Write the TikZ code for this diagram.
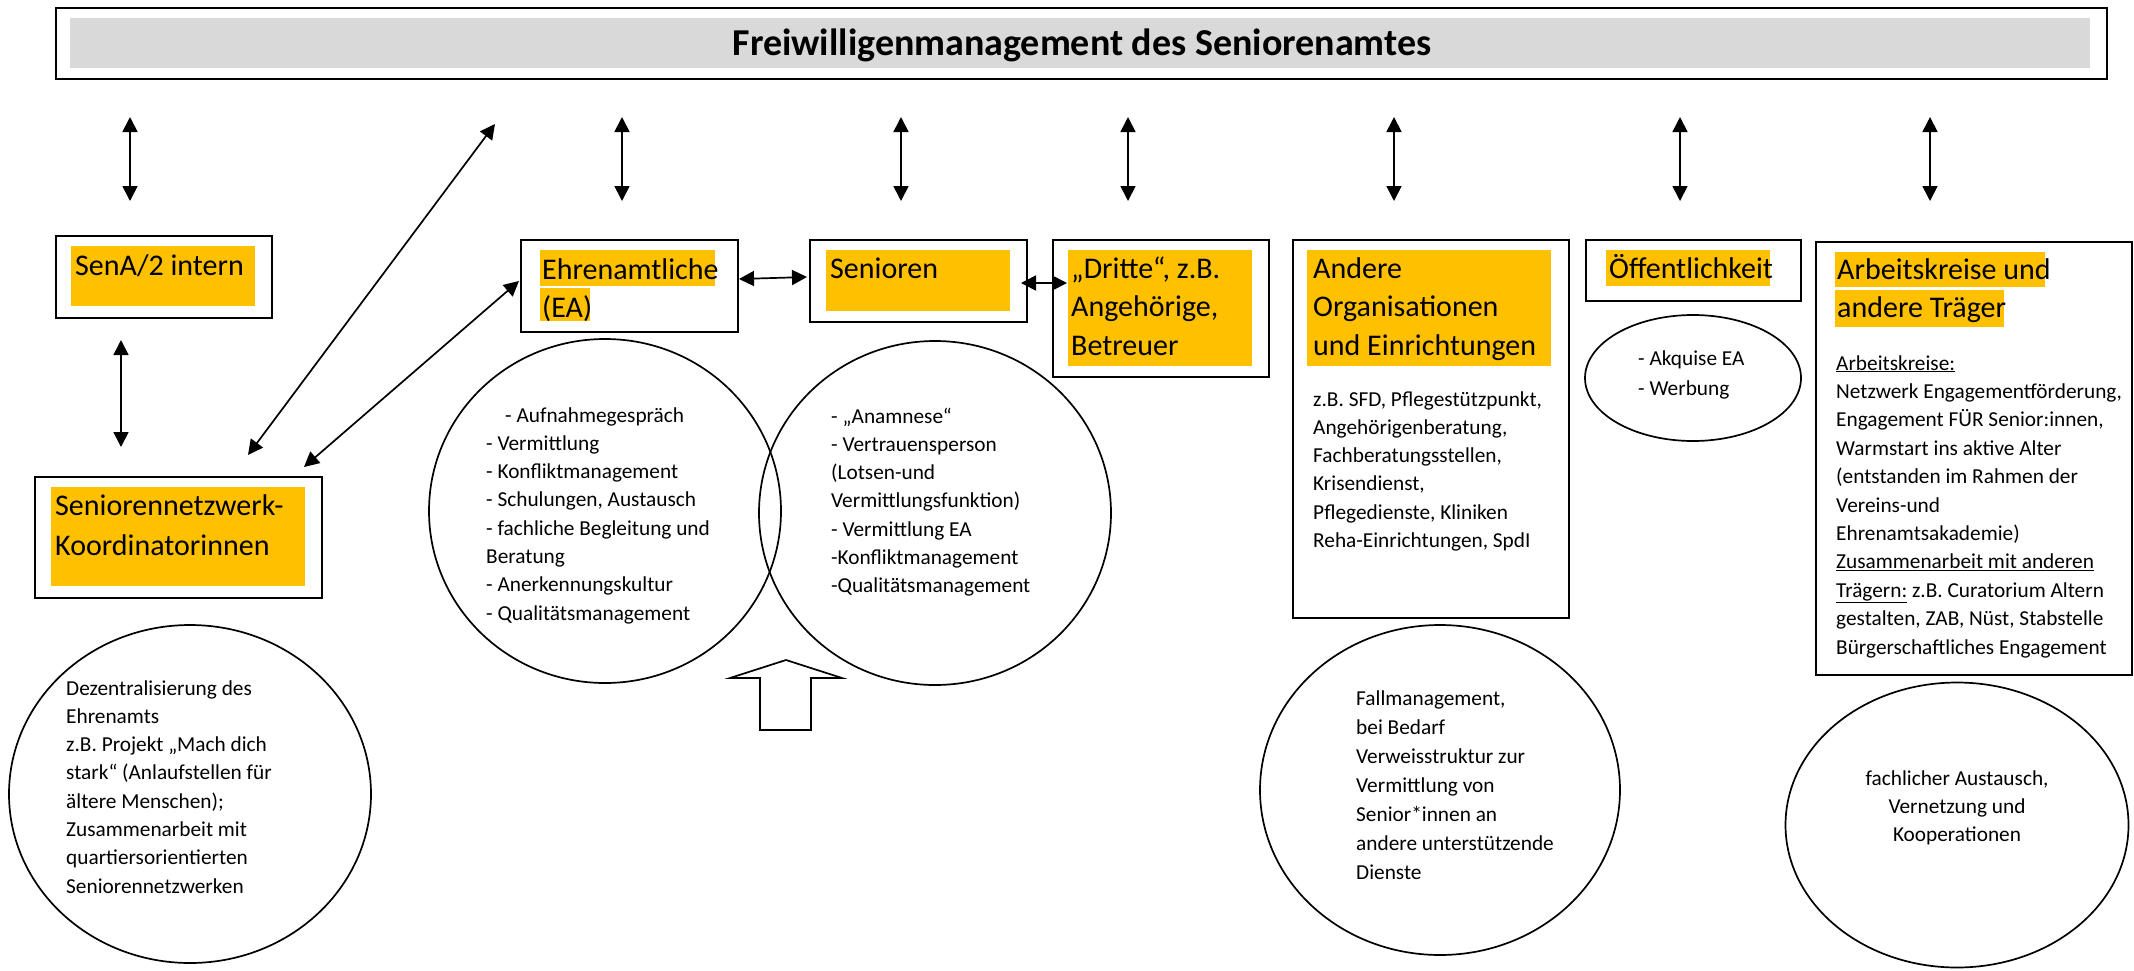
\documentclass[tikz,border=0pt]{standalone}
\usepackage{fontspec}
\setmainfont{Carlito}
\usetikzlibrary{arrows.meta,shapes.geometric}
\definecolor{hly}{HTML}{FFC000}
\definecolor{titlegray}{HTML}{D9D9D9}
\newcommand{\lft}[1]{\begin{tabular}[t]{@{}l@{}}#1\end{tabular}}
\newcommand{\ctr}[1]{\begin{tabular}[t]{@{}c@{}}#1\end{tabular}}
\begin{document}
\begin{tikzpicture}[x=1pt,y=-1pt,
  frame/.style={draw, line width=2pt, inner sep=0pt, anchor=north west},
  big/.style={anchor=base west, inner sep=0pt, font=\fontsize{30}{38.5}\selectfont},
  small/.style={anchor=base west, inner sep=0pt, font=\fontsize{21.3}{28.3}\selectfont},
  oval/.style={draw, ellipse, line width=1.7pt, inner sep=0pt},
  dbl/.style={line width=1.7pt, {Triangle[length=15pt,width=15pt]}-{Triangle[length=15pt,width=15pt]}}
]
\useasboundingbox (0,0) rectangle (2134,970);

% title
\node[frame, minimum width=2051pt, minimum height=71pt] (titlebox) at (55,7) {};
\fill[titlegray] (70,18) rectangle (2090,68);
\node[anchor=base, inner sep=0pt, font=\bfseries\fontsize{38}{46}\selectfont] (title) at (1082,55) {Freiwilligenmanagement des Seniorenamtes};

% SenA/2 intern
\node[frame, minimum width=216pt, minimum height=82pt] (sena) at (55,235) {};
\fill[hly] (71,246) rectangle (255,306);
\node[big] (senatxt) at (75,275) {SenA/2 intern};

% Koordinatorinnen
\node[frame, minimum width=287pt, minimum height=121pt] (koord) at (34,476) {};
\fill[hly] (51,487) rectangle (305,586);
\node[big, font=\fontsize{30}{40}\selectfont] (koordtxt) at (55,515) {\lft{Seniorennetzwerk-\\Koordinatorinnen}};

% Ehrenamtliche
\node[frame, minimum width=217pt, minimum height=92pt] (ehren) at (520,239) {};
\fill[hly] (540,250) rectangle (715,286);
\fill[hly] (540,288) rectangle (590,321);
\node[big] (ehrentxt) at (542,279) {\lft{Ehrenamtliche\\(EA)}};

% Senioren
\node[frame, minimum width=217pt, minimum height=82pt] (senioren) at (809,239) {};
\fill[hly] (826,250) rectangle (1010,311);
\node[big] (seniorentxt) at (830,278) {Senioren};

% Dritte
\node[frame, minimum width=216pt, minimum height=137pt] (dritte) at (1052,239) {};
\fill[hly] (1068,250) rectangle (1252,366);
\node[big] (drittetxt) at (1071,278) {\lft{„Dritte“, z.B.\\Angehörige,\\Betreuer}};

% Andere Organisationen
\node[frame, minimum width=276pt, minimum height=378pt] (andere) at (1292,239) {};
\fill[hly] (1307,250) rectangle (1551,366);
\node[big] (anderetxt) at (1313,278) {\lft{Andere\\Organisationen\\und Einrichtungen}};
\node[small] (anderebody) at (1313,406) {\lft{z.B. SFD, Pflegestützpunkt,\\Angehörigenberatung,\\Fachberatungsstellen,\\Krisendienst,\\Pflegedienste, Kliniken\\Reha-Einrichtungen, SpdI}};

% Oeffentlichkeit
\node[frame, minimum width=215pt, minimum height=61pt] (oeff) at (1585,239) {};
\fill[hly] (1606,250) rectangle (1770,286);
\node[big] (oefftxt) at (1609,278) {Öffentlichkeit};
\node[oval, minimum width=216pt, minimum height=126pt] (oeffoval) at (1693,378) {};
\node[small, font=\fontsize{21.3}{30}\selectfont] (oeffovaltxt) at (1638,365) {\lft{- Akquise EA\\- Werbung}};

% Arbeitskreise
\node[frame, minimum width=316pt, minimum height=433pt] (ak) at (1815,241) {};
\fill[hly] (1835,252) rectangle (2045,287);
\fill[hly] (1835,290) rectangle (2004,327);
\node[big] (aktxt) at (1837,279) {\lft{Arbeitskreise und\\andere Träger}};
\node[small, font=\fontsize{21.3}{28.4}\selectfont] (akbody) at (1836,370) {\lft{\underline{Arbeitskreise:}\\Netzwerk Engagementförderung,\\Engagement FÜR Senior:innen,\\Warmstart ins aktive Alter\\(entstanden im Rahmen der\\Vereins-und\\Ehrenamtsakademie)\\\underline{Zusammenarbeit mit anderen}\\\underline{Trägern:} z.B. Curatorium Altern\\gestalten, ZAB, Nüst, Stabstelle\\Bürgerschaftliches Engagement}};

% circles under Ehrenamtliche / Senioren
\node[oval, minimum width=352pt, minimum height=344pt] (ehrenoval) at (605,511) {};
\node[oval, minimum width=352pt, minimum height=344pt] (seniorenoval) at (935,513) {};
\node[small] (ehrenovaltxt) at (486,422) {\lft{\hspace*{19pt}- Aufnahmegespräch\\- Vermittlung\\- Konfliktmanagement\\- Schulungen, Austausch\\- fachliche Begleitung und\\Beratung\\- Anerkennungskultur\\- Qualitätsmanagement}};
\node[small] (seniorenovaltxt) at (831,423) {\lft{- „Anamnese“\\- Vertrauensperson\\(Lotsen-und\\Vermittlungsfunktion)\\- Vermittlung EA\\-Konfliktmanagement\\-Qualitätsmanagement}};

% block arrow
\draw[line width=1.7pt, line join=miter] (786,660) -- (842,678) -- (811,678) -- (811,730) -- (760,730) -- (760,678) -- (730,678) -- cycle;

% bottom ellipses
\node[oval, minimum width=362pt, minimum height=338pt] (dezoval) at (190,794) {};
\node[small] (deztxt) at (66,695) {\lft{Dezentralisierung des\\Ehrenamts\\z.B. Projekt „Mach dich\\stark“ (Anlaufstellen für\\ältere Menschen);\\Zusammenarbeit mit\\quartiersorientierten\\Seniorennetzwerken}};

\node[oval, minimum width=360pt, minimum height=330pt] (falloval) at (1440,790) {};
\node[small, font=\fontsize{21.3}{29}\selectfont] (falltxt) at (1356,705) {\lft{Fallmanagement,\\bei Bedarf\\Verweisstruktur zur\\Vermittlung von\\Senior*innen an\\andere unterstützende\\Dienste}};

\node[oval, minimum width=343pt, minimum height=285pt] (fachoval) at (1957,825) {};
\node[anchor=base, inner sep=0pt, font=\fontsize{21.3}{28.3}\selectfont] (fachtxt) at (1957,785) {\ctr{fachlicher Austausch,\\Vernetzung und\\Kooperationen}};

% connector end points
\foreach \n/\x in {1/130,2/622,3/901,4/1128,5/1394,6/1680,7/1930}{
  \coordinate (top\n) at (\x,117);
  \coordinate (bot\n) at (\x,201);
}
\coordinate (diagAtop) at (495,124);
\coordinate (diagAbot) at (248,455);
\coordinate (diagBtop) at (519,281);
\coordinate (diagBbot) at (304,467);
\coordinate (senaArr) at (121,340);
\coordinate (koordArr) at (121,447);
\coordinate (senR) at (1021,283);
\coordinate (drL) at (1067,283);
\coordinate (ehR) at (739,279);
\coordinate (seL) at (807,277);

% connectors
\foreach \n in {1,...,7}{ \draw[dbl] (top\n) -- (bot\n); }
\draw[dbl] (diagAtop) -- (diagAbot);
\draw[dbl] (diagBtop) -- (diagBbot);
\draw[dbl] (senaArr) -- (koordArr);
\draw[dbl] (ehR) -- (seL);
\draw[dbl] (senR) -- (drL);
\end{tikzpicture}
\end{document}
